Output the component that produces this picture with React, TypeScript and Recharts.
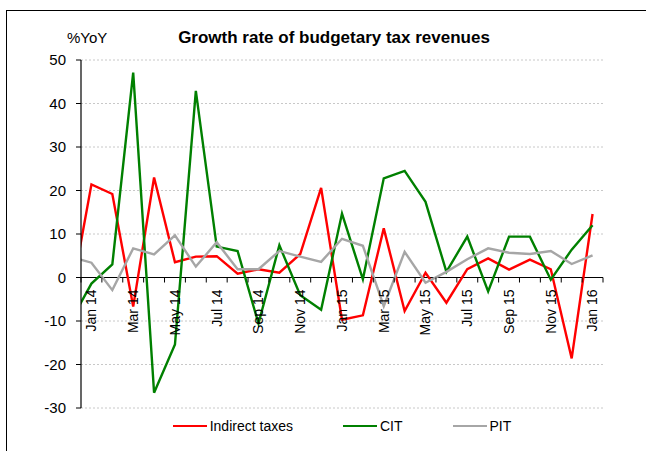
import React from 'react';
import { LineChart, Line, XAxis, YAxis, CartesianGrid, ReferenceLine } from 'recharts';

// first entry (Dec 13) only shows as the clipped segment at the left edge
const months = [
  'Dec 13',
  'Jan 14', 'Feb 14', 'Mar 14', 'Apr 14', 'May 14', 'Jun 14', 'Jul 14', 'Aug 14', 'Sep 14', 'Oct 14', 'Nov 14', 'Dec 14',
  'Jan 15', 'Feb 15', 'Mar 15', 'Apr 15', 'May 15', 'Jun 15', 'Jul 15', 'Aug 15', 'Sep 15', 'Oct 15', 'Nov 15', 'Dec 15',
  'Jan 16',
];
const indirectTaxes = [-5.0, 21.4, 19.2, -6.7, 23.0, 3.5, 4.8, 4.9, 0.9, 1.9, 1.1, 5.4, 20.6, -9.7, -8.7, 11.3, -7.7, 1.1, -5.8, 1.9, 4.4, 1.8, 4.1, 1.9, -18.6, 14.6];
const cit = [-10.1, -1.4, 3.0, 47.1, -26.5, -15.4, 42.9, 7.1, 6.1, -10.6, 7.4, -4.1, -7.4, 14.7, -0.4, 22.8, 24.5, 17.4, 1.3, 9.4, -3.2, 9.4, 9.4, -0.5, 6.4, 12.0];
const pit = [4.8, 3.4, -2.9, 6.7, 5.3, 9.7, 2.5, 8.1, 1.9, 1.9, 6.1, 4.8, 3.6, 8.9, 7.3, -6.6, 5.9, -1.2, 1.3, 4.2, 6.7, 5.7, 5.4, 6.1, 3.1, 5.1];
const yTicks = [-30, -20, -10, 0, 10, 20, 30, 40, 50];

const series = [
  { key: 'indirect', name: 'Indirect taxes', color: '#FF0000' },
  { key: 'cit', name: 'CIT', color: '#008000' },
  { key: 'pit', name: 'PIT', color: '#A6A6A6' },
];

const data = months.map((m, k) => ({
  i: k - 1,
  month: m,
  indirect: indirectTaxes[k],
  cit: cit[k],
  pit: pit[k],
}));

const W = 646;
const H = 451;
const PLOT_TOP = 60;
const PLOT_BOTTOM = 408;
const PLOT_LEFT = 81;
const PLOT_RIGHT = 603;
const Y_MIN = -30;
const Y_MAX = 50;
const ZERO_Y = PLOT_TOP + ((PLOT_BOTTOM - PLOT_TOP) * Y_MAX) / (Y_MAX - Y_MIN);
const FONT = '"Liberation Sans", Arial, sans-serif';

const nMonths = months.length - 1;
const xTicks: number[] = [];
for (let k = 0; k <= nMonths * 2; k++) xTicks.push(-0.5 + k * 0.5);

function MonthTick(props: any) {
  const { x, payload } = props;
  const v = payload.value as number;
  if (!Number.isInteger(v)) {
    return <line x1={x} x2={x} y1={ZERO_Y} y2={ZERO_Y + 5} stroke="#000" strokeWidth={1} />;
  }
  if (v % 2 !== 0) return <g />;
  const ty = ZERO_Y + 12;
  return (
    <text
      x={x}
      y={ty}
      dy="0.35em"
      textAnchor="end"
      transform={`rotate(-90 ${x} ${ty})`}
      fontSize={14}
      fontFamily={FONT}
      fill="#000"
    >
      {months[v + 1]}
    </text>
  );
}

export default function App() {
  return (
    <div style={{ position: 'absolute', left: 0, top: 0, width: W, height: H, background: '#fff', fontFamily: FONT }}>
      <div style={{ position: 'absolute', left: 6, top: 10, right: 0, bottom: 0, borderTop: '1.5px solid #000', borderLeft: '1.5px solid #000' }} />
      <LineChart
        width={W}
        height={H}
        data={data}
        margin={{ top: PLOT_TOP, right: W - PLOT_RIGHT, bottom: H - PLOT_BOTTOM - 1, left: PLOT_LEFT - 60 }}
      >
        <CartesianGrid vertical={false} stroke="#C8C8C8" strokeDasharray="2 2" />
        <XAxis
          dataKey="i"
          type="number"
          domain={[-0.5, nMonths - 0.5]}
          allowDataOverflow
          ticks={xTicks}
          interval={0}
          height={1}
          axisLine={false}
          tickLine={false}
          tick={<MonthTick />}
        />
        <YAxis
          width={60}
          domain={[Y_MIN, Y_MAX]}
          ticks={yTicks}
          interval={0}
          axisLine={{ stroke: '#000', strokeWidth: 1.2 }}
          tickLine={{ stroke: '#000' }}
          tickSize={5}
          tickMargin={10}
          tick={{ fill: '#000', fontSize: 15, fontFamily: FONT }}
        />
        <ReferenceLine y={0} stroke="#000" strokeWidth={1.2} />
        {series.map(s => (
          <Line
            key={s.key}
            dataKey={s.key}
            name={s.name}
            type="linear"
            stroke={s.color}
            strokeWidth={2.4}
            dot={false}
            activeDot={false}
            isAnimationActive={false}
          />
        ))}
      </LineChart>
      <div style={{ position: 'absolute', left: 67, top: 29, fontSize: 15, color: '#000' }}>%YoY</div>
      <div style={{ position: 'absolute', left: 0, width: W + 22, top: 28, textAlign: 'center', fontSize: 17, fontWeight: 'bold', color: '#000' }}>
        Growth rate of budgetary tax revenues
      </div>
      <div
        style={{
          position: 'absolute',
          left: PLOT_LEFT,
          width: PLOT_RIGHT - PLOT_LEFT,
          top: 418,
          display: 'flex',
          justifyContent: 'center',
          gap: 50,
          fontSize: 14,
          color: '#000',
        }}
      >
        {series.map(s => (
          <div key={s.key} style={{ display: 'flex', alignItems: 'center' }}>
            <span style={{ display: 'inline-block', width: 34, height: 2.5, background: s.color, marginRight: 3 }} />
            <span>{s.name}</span>
          </div>
        ))}
      </div>
    </div>
  );
}
